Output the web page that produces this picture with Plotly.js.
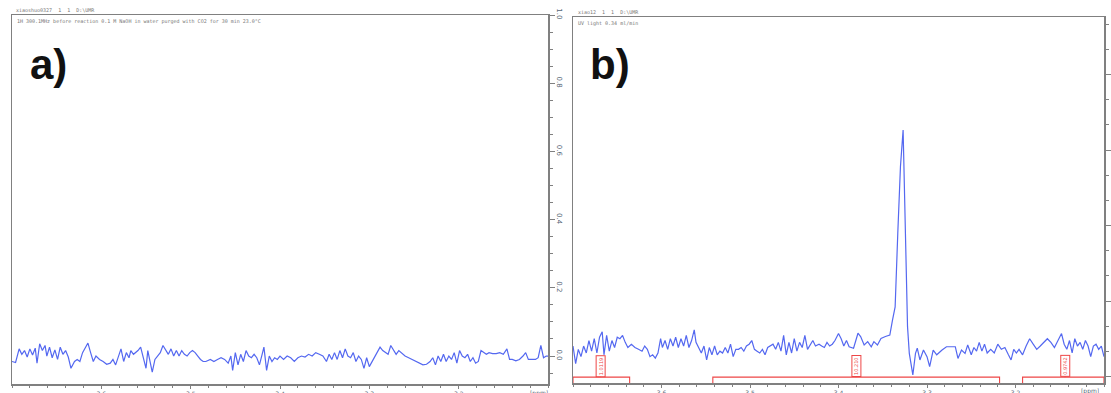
<!DOCTYPE html>
<html>
<head>
<meta charset="utf-8">
<script src="https://cdn.plot.ly/plotly-3.0.1.min.js"></script>
<style>html,body{margin:0;padding:0;background:#fff}#chart{width:1111px;height:393px}</style>
</head>
<body>
<div id="chart"></div>
<script>
// ---- panel a) spectrum (ppm, intensity) ----
const ppmA = [3.700,3.696,3.692,3.689,3.686,3.683,3.680,3.677,3.674,3.672,3.669,3.666,3.663,3.661,3.658,3.655,3.652,3.649,3.646,3.643,3.640,3.637,3.634,3.630,3.627,3.624,3.621,3.618,3.615,3.612,3.609,3.606,3.602,3.598,3.594,3.590,3.587,3.584,3.581,3.578,3.575,3.572,3.569,3.567,3.564,3.559,3.556,3.553,3.550,3.548,3.545,3.543,3.540,3.537,3.534,3.531,3.528,3.525,3.522,3.519,3.516,3.513,3.510,3.507,3.504,3.501,3.498,3.495,3.492,3.489,3.486,3.483,3.478,3.474,3.470,3.466,3.462,3.458,3.455,3.453,3.450,3.447,3.444,3.441,3.438,3.435,3.432,3.429,3.426,3.423,3.420,3.418,3.415,3.412,3.409,3.406,3.403,3.400,3.396,3.392,3.388,3.384,3.380,3.376,3.372,3.368,3.364,3.360,3.356,3.352,3.348,3.345,3.342,3.339,3.336,3.333,3.330,3.327,3.324,3.321,3.318,3.315,3.312,3.309,3.306,3.303,3.300,3.297,3.294,3.291,3.288,3.285,3.282,3.279,3.276,3.273,3.270,3.267,3.264,3.260,3.256,3.252,3.248,3.244,3.240,3.236,3.232,3.229,3.226,3.223,3.220,3.217,3.214,3.211,3.208,3.205,3.202,3.199,3.196,3.193,3.190,3.187,3.184,3.181,3.178,3.175,3.172,3.169,3.166,3.162,3.158,3.154,3.150,3.146,3.143,3.140,3.136,3.132,3.128,3.125,3.122,3.118,3.114,3.111,3.108,3.105,3.102,3.100];
const intA = [-0.016,-0.019,0.021,0.005,0.016,-0.003,0.021,0.003,0.023,-0.021,0.036,0.016,0.031,0.000,0.026,-0.005,0.018,-0.010,0.026,0.005,0.016,-0.003,-0.036,-0.016,-0.010,-0.016,0.010,0.026,0.038,0.010,-0.016,0.000,-0.010,-0.016,-0.024,-0.021,-0.010,-0.026,-0.005,0.021,-0.016,0.010,-0.005,0.016,0.005,0.016,0.026,-0.005,-0.036,0.016,-0.026,-0.047,-0.010,0.000,0.010,0.031,0.016,0.005,0.021,0.000,0.016,0.000,0.016,0.005,0.000,0.010,0.016,0.010,0.000,-0.010,-0.016,-0.016,-0.010,-0.016,-0.010,-0.005,-0.010,-0.021,0.000,-0.042,0.010,-0.026,0.005,-0.016,0.016,0.000,-0.005,0.005,-0.005,-0.026,0.005,0.026,-0.042,0.000,-0.016,-0.005,-0.010,0.000,-0.010,0.000,-0.005,-0.016,-0.005,0.000,-0.003,0.005,0.000,0.010,0.005,0.000,-0.016,0.005,-0.010,0.010,-0.010,0.016,-0.005,0.021,0.000,-0.005,0.010,-0.016,0.000,-0.010,-0.036,-0.005,-0.031,-0.016,-0.005,0.010,0.026,0.016,0.010,0.005,0.031,0.016,0.005,0.016,0.010,0.000,-0.005,-0.010,-0.016,-0.021,-0.026,-0.024,-0.016,-0.005,-0.026,0.000,-0.016,0.005,-0.016,0.000,-0.010,0.010,-0.021,0.016,0.000,-0.005,0.005,-0.016,-0.005,-0.021,-0.016,0.016,0.010,0.005,0.010,0.007,0.007,0.010,0.005,0.021,-0.010,-0.010,-0.014,-0.010,0.000,0.010,-0.010,-0.010,-0.010,-0.005,0.031,-0.005,0.000,0.000];

// ---- panel b) spectrum (ppm, intensity) ----
const ppmB = [3.700,3.697,3.694,3.691,3.688,3.685,3.682,3.679,3.676,3.673,3.670,3.667,3.665,3.662,3.659,3.656,3.653,3.650,3.647,3.644,3.641,3.638,3.634,3.630,3.626,3.622,3.619,3.616,3.613,3.610,3.607,3.604,3.601,3.599,3.596,3.593,3.590,3.587,3.584,3.581,3.578,3.575,3.572,3.569,3.566,3.563,3.561,3.558,3.555,3.552,3.549,3.546,3.543,3.540,3.537,3.534,3.531,3.528,3.525,3.522,3.519,3.516,3.513,3.510,3.507,3.504,3.501,3.498,3.495,3.492,3.489,3.486,3.483,3.480,3.477,3.474,3.471,3.468,3.465,3.462,3.459,3.456,3.453,3.450,3.447,3.444,3.441,3.438,3.435,3.432,3.429,3.426,3.422,3.419,3.416,3.413,3.410,3.407,3.404,3.400,3.397,3.394,3.391,
  3.388,3.383,3.378,3.375,3.371,3.367,3.363,3.360,3.356,3.352,3.347,3.342,3.339,3.336,3.333,3.330,3.327,3.326,3.324,3.322,3.320,3.318,3.316,3.313,3.311,3.308,3.304,3.300,3.297,3.293,3.289,3.283,3.278,3.272,3.268,3.265,3.261,3.257,3.254,
  3.250,3.247,3.244,3.241,3.238,3.235,3.232,3.228,3.224,3.220,3.216,3.212,3.208,3.205,3.202,3.199,3.196,3.192,3.188,3.184,3.180,3.176,3.172,3.168,3.164,3.160,3.156,3.152,3.148,3.145,3.142,3.139,3.136,3.133,3.130,3.127,3.124,3.121,3.118,3.115,3.112,3.109,3.106,3.103,3.100];
const intB = [0.001,-0.047,-0.008,-0.028,0.001,-0.018,0.016,-0.013,0.021,-0.018,0.025,0.040,-0.023,0.030,-0.013,0.016,-0.003,0.025,0.021,0.030,0.011,-0.003,0.006,-0.003,-0.008,-0.013,0.001,-0.008,-0.028,-0.023,-0.032,-0.018,0.021,-0.003,0.016,-0.008,0.021,0.001,0.025,-0.003,0.021,0.001,0.030,-0.003,0.016,0.045,0.011,-0.003,-0.018,0.001,-0.037,-0.003,-0.023,0.001,-0.023,-0.013,-0.018,-0.003,-0.018,0.006,-0.028,-0.008,-0.008,-0.003,-0.013,0.001,0.006,0.016,-0.008,-0.013,-0.018,-0.008,-0.023,-0.003,0.001,0.006,-0.008,0.011,-0.013,0.030,-0.023,0.011,-0.018,0.021,-0.013,0.011,-0.003,0.030,-0.008,0.006,0.016,0.001,0.006,0.001,-0.003,0.011,0.001,0.006,0.016,0.035,0.021,0.001,0.016,
  -0.001,-0.005,0.036,0.027,0.004,0.013,-0.001,0.013,0.004,0.022,0.027,0.031,0.072,0.108,0.309,0.491,0.591,0.491,0.263,0.054,-0.019,-0.055,-0.078,-0.019,-0.005,-0.037,-0.010,-0.028,-0.055,-0.010,-0.023,-0.010,-0.001,-0.001,-0.001,-0.033,-0.010,-0.019,0.004,
  -0.023,-0.003,-0.013,0.011,-0.013,0.006,-0.018,-0.008,-0.018,0.006,-0.008,-0.003,-0.023,-0.037,-0.008,-0.018,-0.008,-0.023,0.001,0.021,0.006,-0.008,0.001,0.011,0.021,0.011,-0.003,0.016,0.035,0.006,-0.008,0.016,-0.018,0.021,0.001,0.011,-0.008,0.016,0.001,-0.028,0.001,0.006,-0.008,0.001,-0.028];

// ---- integrals in panel b) ----
const integralStart = [3.700, 3.542, 3.192];
const integralEnd   = [3.636, 3.218, 3.100];
const integralLabelPos = [3.669, 3.380, 3.144];
const integralValues = ["1.0119", "10.210", "0.9742"];

// ---- tick labels ----
const xTickVals = [3.6, 3.5, 3.4, 3.3, 3.2];
const xTickText = ["3.6", "3.5", "3.4", "3.3", "3.2"];
const yTickValsA = [0.0, 0.2, 0.4, 0.6, 0.8, 1.0];
const yTickTextA = ["0.0", "0.2", "0.4", "0.6", "0.8", "1.0"];

// ---- header texts ----
const headerA1 = "xiaoshuo0327  1  1  D:\\UMR";
const headerA2 = "1H 300.1MHz before reaction 0.1 M NaOH in water purged with CO2 for 30 min 23.0°C";
const headerB1 = "xiao12  1  1  D:\\UMR";
const headerB2 = "UV light 0.34 ml/min";

const BLUE = "rgb(84,104,240)";
const RED = "rgb(238,70,70)";
const FRAME = "#808080";
const TICKC = "#566676";

const traces = [
  {x: ppmA, y: intA, xaxis: "x", yaxis: "y", mode: "lines", line: {color: BLUE, width: 1.2}, hoverinfo: "skip"},
  {x: ppmB, y: intB, xaxis: "x2", yaxis: "y2", mode: "lines", line: {color: BLUE, width: 1.2}, hoverinfo: "skip"}
];

const LINE_Y = -0.084, END_Y = -0.1, BOX_LOW = -0.075;
for (let i = 0; i < integralStart.length; i++) {
  traces.push({x: [integralStart[i], integralStart[i], integralEnd[i], integralEnd[i]],
    y: [END_Y, LINE_Y, LINE_Y, END_Y], xaxis: "x2", yaxis: "y2", mode: "lines",
    line: {color: RED, width: 1.1}, hoverinfo: "skip", cliponaxis: false});
  traces.push({x: [integralLabelPos[i], integralLabelPos[i]], y: [LINE_Y, BOX_LOW],
    xaxis: "x2", yaxis: "y2", mode: "lines", line: {color: RED, width: 1}, hoverinfo: "skip"});
}

const annotations = [
  {text: "<b>a)</b>", x: 48/1111, y: 1 - 65/393, xref: "paper", yref: "paper", xanchor: "center", yanchor: "middle", showarrow: false,
   font: {family: "Liberation Sans, Arial", size: 42, color: "#111"}},
  {text: "<b>b)</b>", x: 610/1111, y: 1 - 65/393, xref: "paper", yref: "paper", xanchor: "center", yanchor: "middle", showarrow: false,
   font: {family: "Liberation Sans, Arial", size: 42, color: "#111"}},
  {text: headerA1, x: 14/1111, y: 1 - 10/393, xref: "paper", yref: "paper", xanchor: "left", yanchor: "middle", showarrow: false,
   font: {family: "DejaVu Sans Mono", size: 5, color: "#777"}},
  {text: headerA2, x: 15/1111, y: 1 - 22/393, xref: "paper", yref: "paper", xanchor: "left", yanchor: "middle", showarrow: false,
   font: {family: "DejaVu Sans Mono", size: 5, color: "#777"}},
  {text: headerB1, x: 576/1111, y: 1 - 12/393, xref: "paper", yref: "paper", xanchor: "left", yanchor: "middle", showarrow: false,
   font: {family: "DejaVu Sans Mono", size: 5, color: "#777"}},
  {text: headerB2, x: 576/1111, y: 1 - 23/393, xref: "paper", yref: "paper", xanchor: "left", yanchor: "middle", showarrow: false,
   font: {family: "DejaVu Sans Mono", size: 5, color: "#777"}},
  {text: "[ppm]", x: 3.11, y: 1 - 387/393, xref: "x", yref: "paper", yanchor: "top", showarrow: false,
   font: {family: "DejaVu Sans", size: 6, color: TICKC}},
  {text: "[ppm]", x: 3.116, y: 1 - 385/393, xref: "x2", yref: "paper", yanchor: "top", showarrow: false,
   font: {family: "DejaVu Sans", size: 6, color: TICKC}}
];
for (let i = 0; i < integralValues.length; i++) {
  annotations.push({text: integralValues[i], x: integralLabelPos[i], y: -0.053, xref: "x2", yref: "y2",
    showarrow: false, textangle: -90, bordercolor: RED, borderwidth: 1, borderpad: 1,
    bgcolor: "#fff", font: {family: "DejaVu Sans", size: 5, color: RED}});
}

const commonX = {
  range: [3.7, 3.1], showline: true, mirror: true, linecolor: FRAME, linewidth: 1.5,
  ticks: "outside", ticklen: 3, tickwidth: 1, tickcolor: FRAME,
  tickvals: xTickVals, ticktext: xTickText, tickfont: {family: "DejaVu Sans", size: 6, color: TICKC},
  minor: {ticks: "outside", dtick: 0.02, tick0: 3.1, ticklen: 2, tickcolor: FRAME, showgrid: false},
  showgrid: false, zeroline: false, fixedrange: true
};

const layout = {
  width: 1111, height: 393, margin: {l: 0, r: 0, t: 0, b: 0},
  paper_bgcolor: "#fff", plot_bgcolor: "#fff", showlegend: false,
  xaxis: Object.assign({}, commonX, {domain: [12/1111, 548/1111], anchor: "y"}),
  xaxis2: Object.assign({}, commonX, {domain: [573/1111, 1104/1111], anchor: "y2"}),
  yaxis: {domain: [1 - 384/393, 1 - 15/393], anchor: "x", side: "right", range: [-0.082, 1.0],
    showline: true, mirror: true, linecolor: FRAME, linewidth: 1.5,
    ticks: "outside", ticklen: 5, tickcolor: FRAME, tickvals: yTickValsA, ticktext: yTickTextA,
    tickangle: 90, tickfont: {family: "DejaVu Sans", size: 7, color: TICKC},
    minor: {ticks: "outside", dtick: 0.05, tick0: 0, ticklen: 3, tickcolor: FRAME},
    showgrid: false, zeroline: false, fixedrange: true},
  yaxis2: {domain: [1 - 383/393, 1 - 17/393], anchor: "x2", side: "right", range: [-0.1, 0.9],
    showline: true, mirror: true, linecolor: FRAME, linewidth: 1.5,
    ticks: "outside", ticklen: 5, tickcolor: FRAME, tick0: -0.0828, dtick: 0.2063,
    showticklabels: false,
    minor: {ticks: "outside", dtick: 0.0688, tick0: -0.0828, ticklen: 3, tickcolor: FRAME},
    showgrid: false, zeroline: false, fixedrange: true},
  annotations: annotations
};

Plotly.newPlot("chart", traces, layout, {staticPlot: true, displayModeBar: false});
</script>
</body>
</html>
